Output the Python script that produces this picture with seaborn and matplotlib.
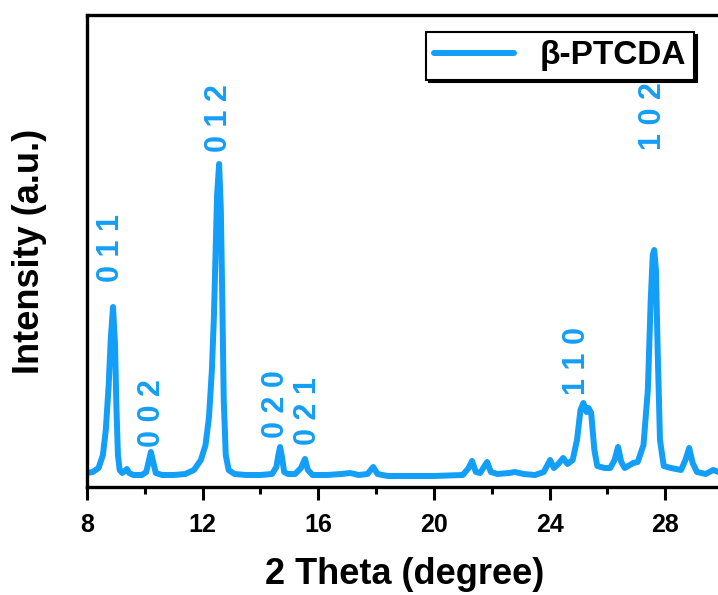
"""
XRD pattern of beta-PTCDA with indexed reflections.
"""

import numpy as np
import pandas as pd
import matplotlib
matplotlib.use("Agg")
import matplotlib.pyplot as plt
import seaborn as sns

# 2-theta (degree) and intensity (a.u.)
two_theta = [
    8.00, 8.20, 8.40, 8.55, 8.65, 8.75, 8.82, 8.90, 8.97, 9.02, 9.07, 9.13,
    9.22, 9.30, 9.38, 9.46, 9.60, 9.90, 10.05, 10.13, 10.21, 10.29, 10.38,
    10.60, 11.00, 11.40, 11.70, 11.94, 12.10, 12.22, 12.32, 12.39, 12.45,
    12.50, 12.57, 12.63, 12.68, 12.73, 12.80, 12.90, 13.10, 13.50, 14.00,
    14.40, 14.55, 14.62, 14.68, 14.75, 14.82, 14.95, 15.20, 15.40, 15.54,
    15.64, 15.80, 16.30, 16.80, 17.10, 17.40, 17.70, 17.90, 18.05, 18.40,
    19.00, 20.00, 21.00, 21.20, 21.32, 21.45, 21.60, 21.84, 21.97, 22.20,
    22.60, 22.80, 23.10, 23.50, 23.80, 24.02, 24.15, 24.30, 24.47, 24.62,
    24.80, 24.95, 25.07, 25.17, 25.28, 25.35, 25.44, 25.55, 25.65, 25.90,
    26.10, 26.25, 26.37, 26.48, 26.60, 26.78, 26.89, 27.05, 27.25, 27.40,
    27.50, 27.57, 27.62, 27.68, 27.74, 27.82, 27.95, 28.20, 28.55, 28.70,
    28.83, 28.95, 29.10, 29.40, 29.66, 29.85,
]
intensity = [
    14, 15, 19, 32, 57, 102, 147, 180, 142, 77, 32, 17,
    14, 16, 18, 14, 12, 12, 15, 25, 35, 25, 14,
    12, 12, 13, 17, 27, 42, 70, 117, 170, 237,
    292, 323, 277, 187, 87, 32, 17, 13, 12, 12,
    13, 20, 32, 40, 29, 15, 13, 13, 19, 28,
    17, 12, 12, 13, 14, 12, 13, 20, 13, 11,
    11, 11, 12, 19, 26, 15, 14, 25, 15, 13,
    14, 15, 13, 12, 15, 27, 19, 23, 29, 23,
    27, 47, 77, 84, 75, 79, 74, 37, 21, 19,
    19, 27, 40, 25, 19, 22, 24, 25, 42, 97,
    187, 232, 237, 217, 137, 47, 21, 19, 17, 27,
    39, 24, 15, 13, 17, 15,
]

# Miller indices and where their labels sit (bottom of rotated text)
hkl_labels = ["0 1 1", "0 0 2", "0 1 2", "0 2 0", "0 2 1", "1 1 0", "1 0 2"]
hkl_x = [8.82, 10.25, 12.57, 14.55, 15.65, 24.95, 27.58]
hkl_y = [205, 40, 335, 49, 42, 92, 337]

BLUE = "#139ef7"

sns.set_theme(style="ticks")
plt.rcParams["font.family"] = ["Liberation Sans", "DejaVu Sans"]
plt.rcParams["font.weight"] = "bold"

df = pd.DataFrame({"two_theta": two_theta, "intensity": intensity})

fig = plt.figure(figsize=(7.18, 5.95), dpi=100)
ax = fig.add_axes([87 / 718, 1 - 487 / 595, 636 / 718, 472 / 595])

sns.lineplot(data=df, x="two_theta", y="intensity", ax=ax, color=BLUE,
             linewidth=4.3, label="\u03b2-PTCDA", sort=False)

for lab, x, y in zip(hkl_labels, hkl_x, hkl_y):
    ax.text(x, y, lab, rotation=90, ha="center", va="bottom",
            color=BLUE, fontsize=22, fontweight="bold")

ax.set_xlim(8, 30)
ax.set_ylim(0, 472)
ax.set_xticks(np.arange(8, 29, 4))
ax.set_xticks(np.arange(10, 30, 4), minor=True)
ax.set_yticks([])
ax.tick_params(axis="x", which="major", direction="out", length=9, width=2.2,
               labelsize=18, pad=10, colors="black")
ax.tick_params(axis="x", which="minor", direction="out", length=5, width=2.2,
               colors="black")
for lbl in ax.get_xticklabels():
    lbl.set_fontweight("bold")
for s in ax.spines.values():
    s.set_linewidth(2.4)
    s.set_color("black")

ax.set_xlabel("2 Theta (degree)", fontsize=26, fontweight="bold",
              labelpad=14, color="black")
ax.set_ylabel("Intensity (a.u.)", fontsize=26, fontweight="bold",
              labelpad=29, color="black")

leg = ax.legend(loc="upper right", bbox_to_anchor=(694 / 718, 1 - 32 / 595),
                bbox_transform=fig.transFigure, borderaxespad=0,
                fancybox=False, edgecolor="black", framealpha=1,
                shadow={"color": "black", "alpha": 1},
                prop={"size": 24, "weight": "bold"},
                handlelength=2.4, handletextpad=0.75, borderpad=0.25)
leg.get_frame().set_linewidth(1.5)
for text in leg.get_texts():
    text.set_color("black")
for line in leg.get_lines():
    line.set_linewidth(4.3)

fig.savefig("out.png", dpi=100)
plt.close(fig)
